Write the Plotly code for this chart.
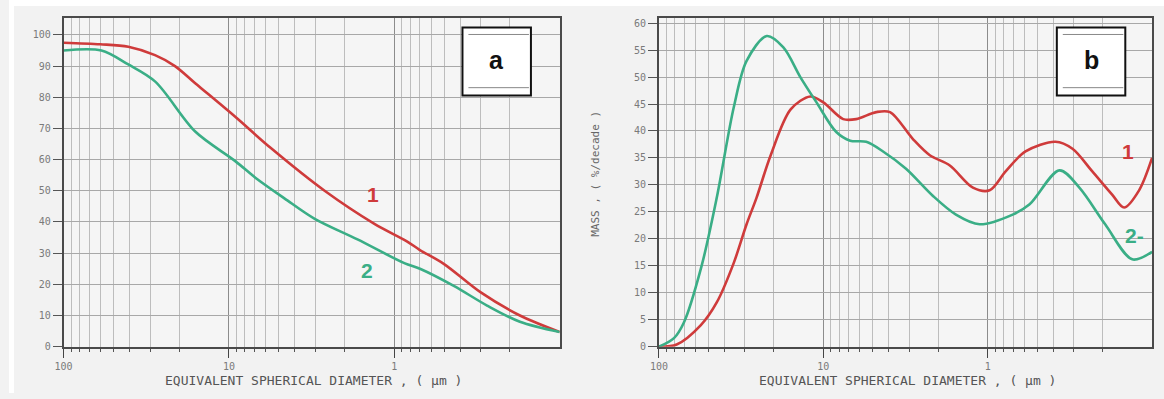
import plotly.graph_objects as go

# Panel a: cumulative mass finer (%) vs equivalent spherical diameter (µm)
a1_diam = [100, 60, 40.6, 28, 21.2, 16, 9.2, 5.58, 2.64, 1.32, 0.84, 0.70, 0.50, 0.30, 0.174, 0.1]
a1_mass = [97.5, 97, 96.2, 93.5, 90, 84.5, 73.8, 63.7, 50, 39.4, 33.8, 31, 26.5, 17.4, 10, 4.7]
a2_diam = [100, 59, 40.6, 27.9, 16, 9.2, 6.7, 4.6, 3.03, 1.67, 0.87, 0.70, 0.437, 0.275, 0.174, 0.1]
a2_mass = [95, 95, 90.5, 85, 69, 59.6, 53.6, 47.5, 41, 34.4, 26.8, 25, 19.5, 13.2, 8, 4.7]

# Panel b: mass frequency (%/decade) vs equivalent spherical diameter (µm)
b1_diam = [100, 78, 55.6, 44.5, 35.1, 29.3, 25.5, 20.9, 15.8, 12, 10, 7.57, 6.31, 4.77, 3.93,
           2.85, 2.25, 1.7, 1.23, 0.973, 0.778, 0.589, 0.387, 0.305, 0.231, 0.175, 0.148, 0.12, 0.1]
b1_mass = [0, 0.4, 4, 8.2, 15.5, 22.7, 27.6, 35.5, 44, 46.4, 45.3, 42.2, 42.2, 43.5, 43.5,
           38.5, 35.5, 33.6, 29.5, 29, 32.5, 36.2, 38, 36.7, 32.5, 28.2, 25.8, 29, 35]
b2_diam = [100, 81, 70.5, 55, 44.5, 35, 29.3, 22.1, 17.5, 13.8, 11, 8.34, 6.86, 5.48, 4.33,
           3.14, 2.16, 1.56, 1.12, 0.705, 0.556, 0.366, 0.277, 0.193, 0.132, 0.1]
b2_mass = [0, 1.6, 4.5, 15, 27.6, 44.5, 53, 57.6, 55.5, 50, 45.3, 39.8, 38.2, 38, 36.2,
           33, 28, 24.5, 22.7, 24.5, 26.4, 32.7, 29.5, 22.7, 16.2, 17.6]

x_tickvals = [100, 10, 1]
x_ticktext = ["100", "10", "1"]
a_yticks = list(range(0, 101, 10))
b_yticks = list(range(0, 61, 5))

RED = "#cf3b3b"
GREEN = "#3aae86"
W, H = 1164, 399


def px(x):
    return x / W


def py(y):
    return 1 - y / H


fig = go.Figure()
for xs, ys, color, xa, ya in [
    (a1_diam, a1_mass, RED, "x", "y"),
    (a2_diam, a2_mass, GREEN, "x", "y"),
    (b1_diam, b1_mass, RED, "x2", "y2"),
    (b2_diam, b2_mass, GREEN, "x2", "y2"),
]:
    fig.add_trace(go.Scatter(
        x=xs, y=ys, xaxis=xa, yaxis=ya, mode="lines", showlegend=False,
        line=dict(color=color, width=2.6, shape="spline", smoothing=0.9),
        hoverinfo="skip",
    ))

minor_vals = [m * 10 ** e for e in (-1, 0, 1) for m in range(2, 10)]
tick_font = dict(family="DejaVu Sans Mono", size=10, color="#7a7a7a")


def x_axis(domain, anchor):
    return dict(
        type="log", range=[2, -1], domain=domain, anchor=anchor,
        tickvals=x_tickvals, ticktext=x_ticktext,
        showgrid=True, gridcolor="#8c8c8c", gridwidth=1,
        minor=dict(tickvals=minor_vals, showgrid=True, gridcolor="#bdbdbd", gridwidth=1,
                   ticks="outside", ticklen=3, tickcolor="#555"),
        ticks="outside", ticklen=9, tickcolor="#444",
        showline=True, mirror=True, linecolor="#4a4a4a", linewidth=1.6,
        tickfont=tick_font, zeroline=False, fixedrange=True,
    )


def y_axis(domain, anchor, rng, vals):
    return dict(
        range=rng, domain=domain, anchor=anchor, tickvals=vals,
        showgrid=True, gridcolor="#a8a8a8", gridwidth=1,
        ticks="outside", ticklen=9, tickcolor="#555",
        showline=True, mirror=True, linecolor="#4a4a4a", linewidth=1.6,
        tickfont=tick_font, zeroline=False, fixedrange=True,
    )


ydom = [py(352), py(18)]
fig.update_layout(
    width=W, height=H,
    margin=dict(l=0, r=0, t=0, b=0),
    paper_bgcolor="#f2f2f2",
    plot_bgcolor="#f5f5f5",
    xaxis=x_axis([px(55), px(555)], "y"),
    yaxis=y_axis(ydom, "x", [0, 105.5], a_yticks),
    xaxis2=x_axis([px(655), px(1152)], "y2"),
    yaxis2=y_axis(ydom, "x2", [0, 61], b_yticks),
)


def note(x, y, text, font, **kw):
    return dict(x=px(x), y=py(y), xref="paper", yref="paper", showarrow=False,
                xanchor="center", yanchor="middle", text=text, font=font, **kw)


title_font = dict(family="DejaVu Sans Mono", size=13, color="#555")
ann = []
for cx in (307, 905):
    ann.append(note(cx, 386, "EQUIVALENT SPHERICAL DIAMETER , ( µm )", title_font))
ann.append(note(591, 176, "MASS , ( %/decade )",
                dict(family="DejaVu Sans Mono", size=11, color="#666"), textangle=-90))

label_font = dict(family="Liberation Sans", size=21)
for txt, x, y, color in [("1", 367, 197, RED), ("2", 361, 275, GREEN),
                         ("1", 1128, 154, RED), ("2-", 1134, 239, GREEN)]:
    ann.append(note(x, y, f"<b>{txt}</b>", dict(label_font, color=color)))

shapes = [
    # white page edge
    dict(type="rect", xref="paper", yref="paper", x0=0, x1=1, y0=py(6), y1=1,
         fillcolor="white", line=dict(width=0), layer="below"),
    dict(type="rect", xref="paper", yref="paper", x0=0, x1=px(5), y0=0, y1=1,
         fillcolor="white", line=dict(width=0), layer="below"),
]
for x0, x1, letter in [(457, 526, "a"), (1056, 1125, "b")]:
    shapes.append(dict(type="rect", xref="paper", yref="paper",
                       x0=px(x0), x1=px(x1), y0=py(97), y1=py(28),
                       fillcolor="white", line=dict(color="#111", width=2)))
    for yy in (35, 89):
        shapes.append(dict(type="line", xref="paper", yref="paper",
                           x0=px(x0 + 6), x1=px(x1 - 2), y0=py(yy), y1=py(yy),
                           line=dict(color="#888", width=1)))
    ann.append(note((x0 + x1) / 2, 61, f"<b>{letter}</b>",
                    dict(family="Liberation Sans", size=25, color="#111")))

fig.update_layout(annotations=ann, shapes=shapes)
fig.write_html("out.html")
